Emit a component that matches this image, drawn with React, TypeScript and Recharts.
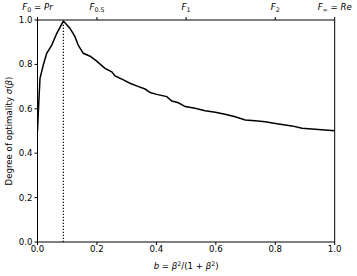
import React from "react";
import { LineChart, Line, XAxis, YAxis, ReferenceLine } from "recharts";

const bValues = [0, 0.004, 0.0084, 0.0195, 0.031, 0.048, 0.065, 0.087, 0.109, 0.126, 0.137, 0.154, 0.177, 0.199, 0.227, 0.25, 0.261, 0.289, 0.311, 0.34, 0.362, 0.379, 0.401, 0.435, 0.452, 0.474, 0.497, 0.53, 0.564, 0.598, 0.631, 0.665, 0.699, 0.732, 0.766, 0.811, 0.856, 0.89, 0.934, 1.0];
const sigmaValues = [0.5, 0.62, 0.737, 0.797, 0.85, 0.887, 0.94, 0.995, 0.963, 0.925, 0.887, 0.85, 0.837, 0.815, 0.782, 0.767, 0.748, 0.73, 0.715, 0.7, 0.689, 0.673, 0.665, 0.655, 0.635, 0.627, 0.61, 0.602, 0.591, 0.584, 0.575, 0.564, 0.55, 0.546, 0.542, 0.532, 0.523, 0.512, 0.508, 0.501];

const bottomTicks = [0, 0.2, 0.4, 0.6, 0.8, 1.0];
const leftTicks = [0, 0.2, 0.4, 0.6, 0.8, 1.0];
const topTicks = [0, 0.2, 0.5, 0.8, 1.0];
const topMain = ["F", "F", "F", "F", "F"];
const topSub = ["0", "0.5", "1", "2", "\u221E"];
const topSuffix = ["Pr", "", "", "", "Re"];
const peakB = 0.087;
const peakSigma = 0.995;

const data = bValues.map((b, i) => ({ b, s: sigmaValues[i] }));

const FONT = "DejaVu Sans";
const FS = 8.6;
const SUB = 6.3;

const TopTick = (props: any) => {
  const { x, y, payload } = props;
  const i = topTicks.indexOf(payload.value);
  if (i < 0) return null;
  return (
    <text x={x} y={y - 5} textAnchor="middle" fontFamily={FONT} fontSize={FS} fill="#000">
      <tspan fontStyle="italic">{topMain[i]}</tspan>
      <tspan fontSize={SUB} dy={2}>{topSub[i]}</tspan>
      {topSuffix[i] ? (
        <tspan dy={-2}>
          {" = "}
          <tspan fontStyle="italic">{topSuffix[i]}</tspan>
        </tspan>
      ) : null}
    </text>
  );
};

const BottomLabel = (props: any) => {
  const { viewBox } = props;
  const cx = viewBox.x + viewBox.width / 2;
  const y = viewBox.y + 27;
  return (
    <text x={cx} y={y} textAnchor="middle" fontFamily={FONT} fontSize={FS} fill="#000">
      <tspan fontStyle="italic">b</tspan>
      <tspan> = </tspan>
      <tspan fontStyle="italic">{"\u03B2"}</tspan>
      <tspan fontSize={SUB} dy={-3}>2</tspan>
      <tspan dy={3}>/(1 + </tspan>
      <tspan fontStyle="italic">{"\u03B2"}</tspan>
      <tspan fontSize={SUB} dy={-3}>2</tspan>
      <tspan dy={3}>)</tspan>
    </text>
  );
};

const LeftLabel = (props: any) => {
  const { viewBox } = props;
  const cy = viewBox.y + viewBox.height / 2;
  const x = 12;
  return (
    <text x={x} y={cy} transform={`rotate(-90, ${x}, ${cy})`} textAnchor="middle" fontFamily={FONT} fontSize={FS} fill="#000">
      <tspan>Degree of optimality </tspan>
      <tspan fontStyle="italic">{"\u03C3"}</tspan>
      <tspan>(</tspan>
      <tspan fontStyle="italic">{"\u03B2"}</tspan>
      <tspan>)</tspan>
    </text>
  );
};

export default function App() {
  const tickStyle = { fontFamily: FONT, fontSize: FS, fill: "#000" };
  return (
    <div style={{ position: "fixed", left: 0, top: 0, width: 357, height: 276, background: "#fff" }}>
      <LineChart width={357} height={276} data={data} margin={{ top: 0, right: 0, bottom: 0, left: 0 }}>
        <XAxis
          xAxisId="bottom"
          dataKey="b"
          type="number"
          domain={[0, 1]}
          ticks={bottomTicks}
          tickFormatter={(v: number) => v.toFixed(1)}
          height={34}
          tick={tickStyle}
          tickSize={3}
          tickMargin={1}
          axisLine={{ stroke: "#000", strokeWidth: 1 }}
          tickLine={{ stroke: "#000" }}
          allowDataOverflow
          label={<BottomLabel />}
        />
        <XAxis
          xAxisId="top"
          orientation="top"
          dataKey="b"
          type="number"
          domain={[0, 1]}
          ticks={topTicks}
          height={20}
          tick={<TopTick />}
          tickSize={3}
          axisLine={{ stroke: "#000", strokeWidth: 1 }}
          tickLine={{ stroke: "#000" }}
          allowDataOverflow
        />
        <YAxis
          yAxisId="left"
          type="number"
          domain={[0, 1]}
          ticks={leftTicks}
          tickFormatter={(v: number) => v.toFixed(1)}
          width={37.5}
          tick={tickStyle}
          tickSize={3}
          tickMargin={2}
          axisLine={{ stroke: "#000", strokeWidth: 1 }}
          tickLine={{ stroke: "#000" }}
          allowDataOverflow
          label={<LeftLabel />}
        />
        <YAxis
          yAxisId="right"
          orientation="right"
          type="number"
          domain={[0, 1]}
          width={22.3}
          tick={false}
          tickLine={false}
          axisLine={{ stroke: "#000", strokeWidth: 1 }}
        />
        <ReferenceLine
          xAxisId="bottom"
          yAxisId="left"
          segment={[{ x: peakB, y: 0 }, { x: peakB, y: peakSigma }]}
          stroke="#000"
          strokeWidth={1.2}
          strokeDasharray="1.2 1.8"
          ifOverflow="visible"
        />
        <Line
          xAxisId="bottom"
          yAxisId="left"
          type="linear"
          dataKey="s"
          stroke="#000"
          strokeWidth={1.5}
          dot={false}
          isAnimationActive={false}
        />
      </LineChart>
    </div>
  );
}
